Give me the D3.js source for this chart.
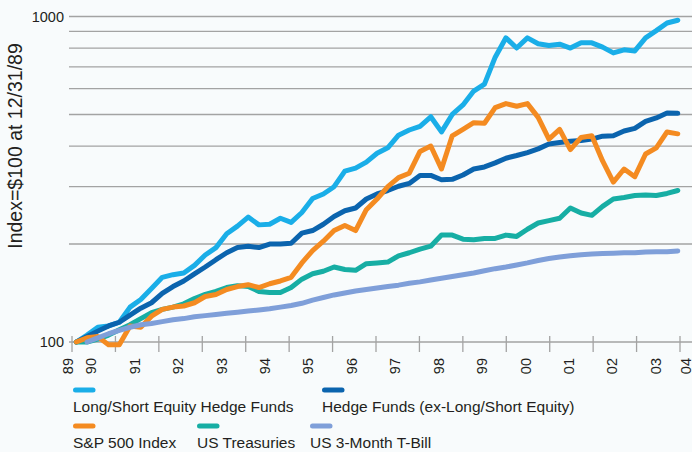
<!DOCTYPE html>
<html>
  <head>
    <meta charset="utf-8">
    <style type="text/css">
      body { margin:0; background:#f8fbfc; }
      text { font-family:"Liberation Sans",Arial,sans-serif; fill:#231f20; }
    </style>
  </head>
  <body>
    <div id="chart"></div>
    <script src="https://cdn.jsdelivr.net/npm/d3@7"></script>
    <script>
      // quarterly readings, index = 100 at 12/31/89
      var longShort = [100,105,111,112,115,128,135,146,158,161,163,172,185,195,215,227,242,229,230,240,233,250,276,285,300,335,342,357,380,395,432,448,460,492,442,500,535,590,620,750,860,800,860,825,815,822,800,830,830,805,773,790,784,860,905,955,974];
      var hedgeFunds = [100,104,108,112,115,121,127,132,141,148,154,162,170,179,188,195,197,195,200,200,201,216,220,230,243,253,258,275,285,292,301,307,325,325,315,316,326,340,345,355,367,374,382,392,406,410,414,416,420,429,430,445,453,476,488,505,504];
      var sp500 = [100,103,104,98,98,112,111,120,126,128,129,132,138,140,145,148,150,147,151,154,158,175,191,204,220,228,220,255,275,300,320,330,385,400,340,430,450,472,470,525,540,530,540,490,420,450,390,425,430,360,310,340,322,378,395,442,436];
      var treasuries = [100,100,102,105,109,113,118,123,126,128,131,136,140,143,147,149,148,143,142,142,147,156,162,165,170,167,166,174,175,176,184,188,193,197,213,213,207,206,208,208,213,211,222,232,236,240,258,249,245,261,275,278,282,283,282,286,292];
      var tBill = [null,100,103,106,108.5,111,113,114,115.5,117,118,119.5,120.5,121.5,122.5,123.5,124.5,125.5,126.5,128,129.5,131.5,134.5,137,139.5,141.5,143.5,145,146.5,148,149.5,151.5,153,155,157,159,161,163,165.5,168,170,172.5,175,178,180.5,182.5,184,185.5,186.5,187,187.5,188,188,189,189.5,189.5,190.5];
      var dates = d3.range(longShort.length).map(function (i) { return 1990.1 + i * 0.2473; });

      var yearLabels = ["89","90","91","92","93","94","95","96","97","98","99","00","01","02","03","04"];
      var gridValues = [100,200,300,400,500,600,700,800,900,1000];
      var yLabels = [100,1000];

      var series = [
        {name:"Long/Short Equity Hedge Funds", values:longShort, color:"#1aaee8"},
        {name:"Hedge Funds (ex-Long/Short Equity)", values:hedgeFunds, color:"#0b64ae"},
        {name:"US Treasuries", values:treasuries, color:"#17aea4"},
        {name:"S&P 500 Index", values:sp500, color:"#f48b21"},
        {name:"US 3-Month T-Bill", values:tBill, color:"#7f9fd9"}
      ];
      var legendRows = [
        ["Long/Short Equity Hedge Funds","Hedge Funds (ex-Long/Short Equity)"],
        ["S&P 500 Index","US Treasuries","US 3-Month T-Bill"]
      ];
      var legendX = [[73,322],[73,197,310]];

      var width = 692, height = 452;
      var svg = d3.select("#chart").append("svg")
          .attr("width", width).attr("height", height);

      var x = d3.scaleLinear().domain([1990, 2004]).range([72, 680]);
      var y = d3.scaleLog().domain([100, 1000]).range([342, 16.5]);

      // gridlines
      svg.append("g").selectAll("line")
          .data(gridValues).enter().append("line")
          .attr("x1", 69).attr("x2", width)
          .attr("y1", function (d) { return y(d); })
          .attr("y2", function (d) { return y(d); })
          .attr("stroke", "#a3a3a3").attr("stroke-width", 1.3);

      // y labels
      svg.append("g").selectAll("text")
          .data(yLabels).enter().append("text")
          .attr("x", 64).attr("y", function (d) { return y(d); })
          .attr("dy", "0.35em").attr("text-anchor", "end")
          .style("font-size", "14.5px")
          .text(function (d) { return d; });

      svg.append("text")
          .attr("transform", "translate(22,146) rotate(-90)")
          .attr("text-anchor", "middle")
          .style("font-size", "19.5px")
          .text("Index=$100 at 12/31/89");

      // x ticks at year boundaries
      svg.append("g").selectAll("line")
          .data(d3.range(1990, 2005)).enter().append("line")
          .attr("x1", function (d) { return x(d); })
          .attr("x2", function (d) { return x(d); })
          .attr("y1", 336).attr("y2", 352)
          .attr("stroke", "#a3a3a3").attr("stroke-width", 1.3);

      // year labels, centred in each year; end labels sit at the edges
      svg.append("g").selectAll("text")
          .data(yearLabels).enter().append("text")
          .attr("transform", function (d, i) {
            var px;
            if (i === 0) px = x(1990) - 4;
            else if (i === yearLabels.length - 1) px = x(2004) + 5.5;
            else px = x(1989 + i + 0.5) - 2.5;
            return "translate(" + (px + 5) + ",358) rotate(-90)";
          })
          .attr("text-anchor", "end")
          .style("font-size", "14.5px")
          .text(function (d) { return d; });

      var line = d3.line()
          .defined(function (d) { return d != null; })
          .x(function (d, i) { return x(dates[i]); })
          .y(function (d) { return y(d); });

      svg.append("g").selectAll("path")
          .data(series).enter().append("path")
          .attr("d", function (s) { return line(s.values); })
          .attr("fill", "none")
          .attr("stroke", function (s) { return s.color; })
          .attr("stroke-width", 5)
          .attr("stroke-linejoin", "round")
          .attr("stroke-linecap", "round");

      // legend
      var colorOf = {};
      series.forEach(function (s) { colorOf[s.name] = s.color; });
      legendRows.forEach(function (row, r) {
        var sy = 390 + r * 36;
        row.forEach(function (name, c) {
          var lx = legendX[r][c];
          svg.append("line")
              .attr("x1", lx + 2.5).attr("x2", lx + 20)
              .attr("y1", sy).attr("y2", sy)
              .attr("stroke", colorOf[name]).attr("stroke-width", 5)
              .attr("stroke-linecap", "round");
          svg.append("text")
              .attr("x", lx).attr("y", sy + 22)
              .style("font-size", "15.5px")
              .text(name);
        });
      });
    </script>
  </body>
</html>
